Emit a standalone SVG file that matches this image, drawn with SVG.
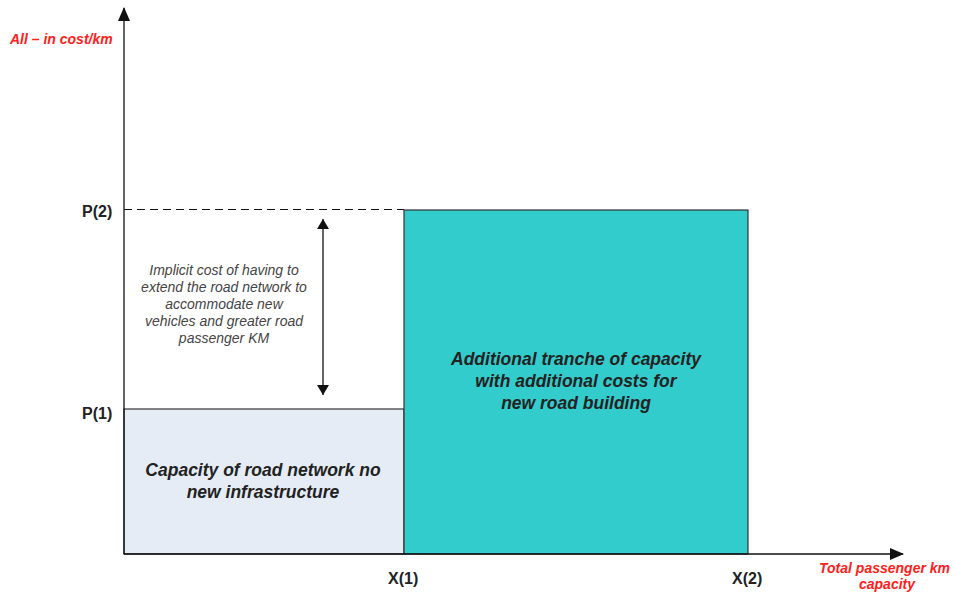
<svg xmlns="http://www.w3.org/2000/svg" width="956" height="594" viewBox="0 0 956 594">
  <defs>
    <marker id="arr" viewBox="0 0 10 12" refX="10" refY="6" markerWidth="10" markerHeight="12" markerUnits="userSpaceOnUse" orient="auto-start-reverse">
      <path d="M0,0 L10,6 L0,12 z" fill="#111"/>
    </marker>
    <marker id="axarr" viewBox="0 0 14 12" refX="13" refY="6" markerWidth="14" markerHeight="12" markerUnits="userSpaceOnUse" orient="auto">
      <path d="M0,0 L14,6 L0,12 z" fill="#111"/>
    </marker>
  </defs>
  <style>
    .box { stroke: #333; stroke-width: 1.2; }
    .tick { font-family: "Liberation Sans", Arial, sans-serif; font-weight: bold; font-size: 16px; fill: #222; }
    .axis-title { font-family: "Liberation Sans", Arial, sans-serif; font-weight: bold; font-style: italic; font-size: 14px; fill: #ff2020; }
    .box-label { font-family: "Liberation Sans", Arial, sans-serif; font-weight: bold; font-style: italic; font-size: 17.5px; fill: #222; text-anchor: middle; }
    .note { font-family: "Liberation Sans", Arial, sans-serif; font-style: italic; font-size: 14px; fill: #444; text-anchor: middle; }
  </style>

  <rect width="956" height="594" fill="#fff"/>

  <!-- capacity blocks -->
  <g id="existing-capacity">
    <rect class="box" x="124" y="409" width="280" height="145" fill="#e6ecf6"/>
    <text class="box-label" x="263" y="476">Capacity of road network no</text>
    <text class="box-label" x="263" y="498">new infrastructure</text>
  </g>
  <g id="additional-capacity">
    <rect class="box" x="404" y="210" width="344" height="344" fill="#33cccc"/>
    <text class="box-label" x="576" y="365">Additional tranche of capacity</text>
    <text class="box-label" x="576" y="387">with additional costs for</text>
    <text class="box-label" x="576" y="409">new road building</text>
  </g>

  <g id="connectors" fill="none" stroke="#111">
    <!-- axes -->
    <line x1="124" y1="554" x2="124" y2="8" stroke-width="1.3" marker-end="url(#axarr)"/>
    <line x1="124" y1="554" x2="903" y2="554" stroke-width="1.3" marker-end="url(#axarr)"/>
    <!-- P(2) reference level -->
    <line x1="124" y1="209.5" x2="404" y2="209.5" stroke-width="1.2" stroke-dasharray="8,5"/>
    <!-- cost gap -->
    <line x1="323" y1="219" x2="323" y2="395" stroke-width="1.3" marker-start="url(#arr)" marker-end="url(#arr)"/>
  </g>

  <g id="cost-gap-note">
    <text class="note" x="224" y="275">Implicit cost of having to</text>
    <text class="note" x="224" y="292">extend the road network to</text>
    <text class="note" x="224" y="309">accommodate new</text>
    <text class="note" x="224" y="326">vehicles and greater road</text>
    <text class="note" x="224" y="343">passenger KM</text>
  </g>

  <g id="axis-labels">
    <text class="axis-title" x="10" y="44">All – in cost/km</text>
    <text class="axis-title" x="950" y="573" text-anchor="end">Total passenger km</text>
    <text class="axis-title" x="887" y="589" text-anchor="middle">capacity</text>
    <text class="tick" x="82" y="217">P(2)</text>
    <text class="tick" x="82" y="419">P(1)</text>
    <text class="tick" x="388" y="584">X(1)</text>
    <text class="tick" x="732" y="584">X(2)</text>
  </g>
</svg>
